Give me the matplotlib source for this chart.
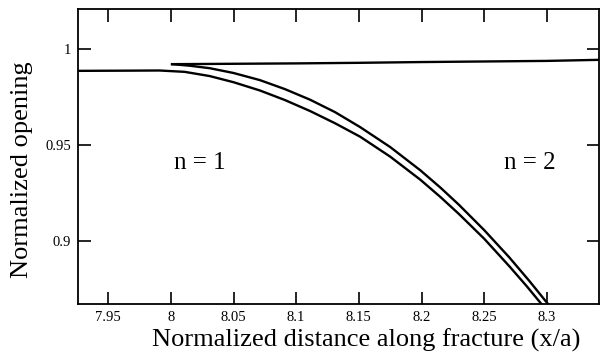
import matplotlib
matplotlib.use("Agg")
import matplotlib.pyplot as plt

# n = 1 curve (flat then bending down)
n1_x = [7.920, 7.960, 7.991, 8.011, 8.031, 8.050, 8.071, 8.091, 8.111, 8.131,
        8.151, 8.175, 8.199, 8.215, 8.230, 8.250, 8.270, 8.284, 8.296, 8.302]
n1_y = [0.9885, 0.9886, 0.9887, 0.9880, 0.9858, 0.9826, 0.9783, 0.9733, 0.9676,
        0.9612, 0.9542, 0.9438, 0.9318, 0.9228, 0.9138, 0.9010, 0.8867, 0.8762,
        0.8667, 0.8618]

# n = 2 curve (starts at x/a = 8, bends down just above n = 1)
n2_x = [8.001, 8.015, 8.031, 8.050, 8.071, 8.091, 8.111, 8.131, 8.151, 8.175,
        8.199, 8.215, 8.230, 8.250, 8.270, 8.286, 8.301, 8.307]
n2_y = [0.9920, 0.9912, 0.9899, 0.9874, 0.9837, 0.9790, 0.9735, 0.9670, 0.9592,
        0.9488, 0.9367, 0.9277, 0.9186, 0.9055, 0.8913, 0.8790, 0.8669, 0.8619]

# nearly flat line from x/a = 8
flat_x = [8.001, 8.100, 8.150, 8.200, 8.250, 8.300, 8.345]
flat_y = [0.9920, 0.9924, 0.9927, 0.9931, 0.9934, 0.9937, 0.9943]

xticks = [7.95, 8, 8.05, 8.1, 8.15, 8.2, 8.25, 8.3]
xticklabels = ["7.95", "8", "8.05", "8.1", "8.15", "8.2", "8.25", "8.3"]
yticks = [0.9, 0.95, 1]
yticklabels = ["0.9", "0.95", "1"]

plt.rcParams['font.family'] = ['Liberation Serif', 'DejaVu Serif']

fig = plt.figure(figsize=(6.05, 3.56), dpi=100)
ax = fig.add_axes([0.129, 0.146, 0.861, 0.829])

ax.plot(n1_x, n1_y, color='black', lw=1.7)
ax.plot(n2_x, n2_y, color='black', lw=1.7)
ax.plot(flat_x, flat_y, color='black', lw=1.7)

ax.set_xlim(7.926, 8.3415)
ax.set_ylim(0.867, 1.0208)

ax.set_xticks(xticks)
ax.set_xticklabels(xticklabels)
ax.set_yticks(yticks)
ax.set_yticklabels(yticklabels)
ax.tick_params(direction='in', length=9, width=1.2, top=True, right=True,
               labelsize=10.5, pad=5)

for s in ax.spines.values():
    s.set_linewidth(1.3)

ax.text(8.023, 0.9406, "n = 1", fontsize=18, ha='center', va='center')
ax.text(8.286, 0.9406, "n = 2", fontsize=18, ha='center', va='center')

ax.set_xlabel("Normalized distance along fracture (x/a)", fontsize=19, va='center')
ax.xaxis.set_label_coords(0.553, -0.122)
ax.set_ylabel("Normalized opening", fontsize=19, va='center')
ax.yaxis.set_label_coords(-0.1075, 0.454)

fig.savefig("out.png", dpi=100)
